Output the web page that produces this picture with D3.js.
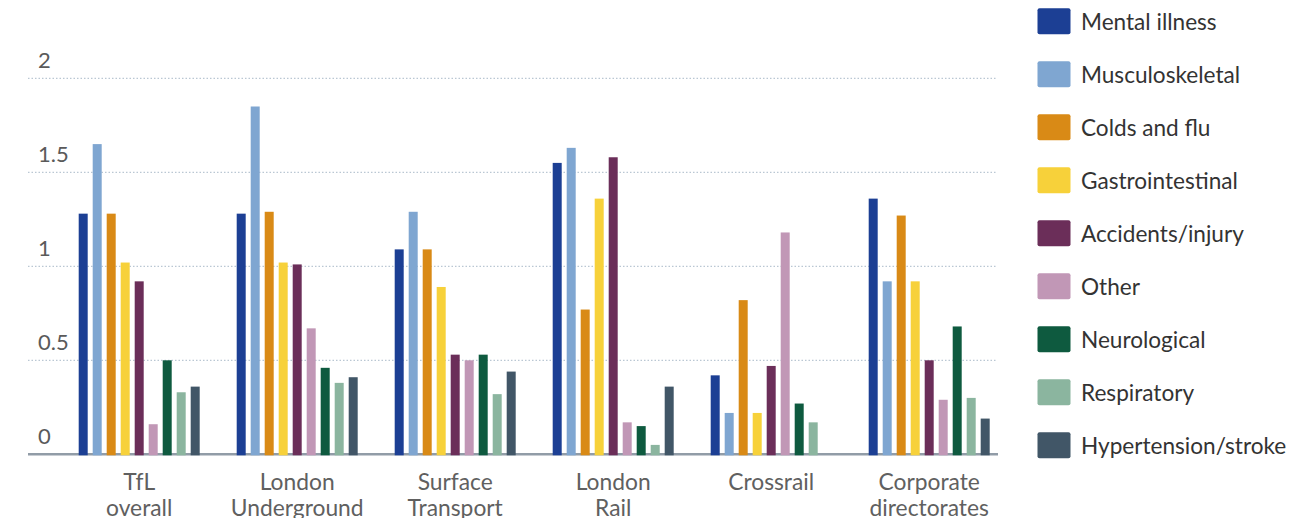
<!DOCTYPE html>
<html>
<head>
<meta charset="utf-8">
<script src="https://cdn.jsdelivr.net/npm/d3@7"></script>
<style>
  html, body { margin: 0; padding: 0; background: #fff; }
  svg { display: block; font-family: Lato, "Open Sans", sans-serif; }
</style>
</head>
<body>
<svg id="chart" width="1316" height="518"></svg>
<script>
const categories = [
  ["TfL", "overall"],
  ["London", "Underground"],
  ["Surface", "Transport"],
  ["London", "Rail"],
  ["Crossrail"],
  ["Corporate", "directorates"]
];
const seriesNames = ["Mental illness", "Musculoskeletal", "Colds and flu", "Gastrointestinal",
  "Accidents/injury", "Other", "Neurological", "Respiratory", "Hypertension/stroke"];
const seriesColors = ["#1c3f94", "#7fa6d1", "#d98a16", "#f7d13a", "#6b2e59", "#c197b6", "#0e5a3f", "#8bb59f", "#415667"];
// values per category, in series order
const mentalIllness    = [1.28, 1.28, 1.09, 1.55, 0.42, 1.36];
const musculoskeletal  = [1.65, 1.85, 1.29, 1.63, 0.22, 0.92];
const coldsAndFlu      = [1.28, 1.29, 1.09, 0.77, 0.82, 1.27];
const gastrointestinal = [1.02, 1.02, 0.89, 1.36, 0.22, 0.92];
const accidentsInjury  = [0.92, 1.01, 0.53, 1.58, 0.47, 0.50];
const other            = [0.16, 0.67, 0.50, 0.17, 1.18, 0.29];
const neurological     = [0.50, 0.46, 0.53, 0.15, 0.27, 0.68];
const respiratory      = [0.33, 0.38, 0.32, 0.05, 0.17, 0.30];
const hypertension     = [0.36, 0.41, 0.44, 0.36, 0.00, 0.19];
const yTicks = [0, 0.5, 1, 1.5, 2];
const yTickLabels = ["0", "0.5", "1", "1.5", "2"];

const seriesValues = [mentalIllness, musculoskeletal, coldsAndFlu, gastrointestinal,
  accidentsInjury, other, neurological, respiratory, hypertension];

const svg = d3.select("#chart");
const catKeys = categories.map(c => c.join(" "));

const x0 = d3.scaleBand().domain(catKeys).range([60.2, 1008.2]).padding(0);
const groupW = 121;
const x1 = d3.scaleBand().domain(seriesNames).range([0, groupW]).paddingInner(5 / 14).paddingOuter(0);
const y = d3.scaleLinear().domain([0, 2]).range([454.3, 78.3]);

// gridlines
svg.append("g").selectAll("line").data(yTicks.filter(t => t > 0)).join("line")
  .attr("x1", 28).attr("x2", 997)
  .attr("y1", d => y(d)).attr("y2", d => y(d))
  .attr("stroke", "#a9b9c9").attr("stroke-width", 1).attr("stroke-dasharray", "1.5,2");

// y tick labels
svg.append("g").selectAll("text").data(yTicks).join("text")
  .attr("x", 38).attr("y", d => y(d) - 10)
  .attr("font-size", 22).attr("fill", "#5a5a5a")
  .text((d, i) => yTickLabels[i]);

// baseline axis
svg.append("line").attr("x1", 28).attr("x2", 998).attr("y1", y(0)).attr("y2", y(0))
  .attr("stroke", "#919ca7").attr("stroke-width", 2.5);

// bars
const groups = svg.append("g").selectAll("g").data(catKeys).join("g")
  .attr("transform", d => `translate(${x0(d) + (x0.bandwidth() - groupW) / 2},0)`);
groups.selectAll("rect").data((d, ci) => seriesNames.map((s, si) => ({ s, si, v: seriesValues[si][ci] })))
  .join("rect")
  .filter(d => d.v > 0)
  .attr("x", d => x1(d.s)).attr("width", x1.bandwidth())
  .attr("y", d => y(d.v)).attr("height", d => y(0) - y(d.v) + 1)
  .attr("fill", d => seriesColors[d.si]);

// category labels
const catLabels = svg.append("g").selectAll("text").data(categories).join("text")
  .attr("text-anchor", "middle").attr("font-size", 22.8).attr("fill", "#606060")
  .attr("transform", (d, i) => `translate(${x0(catKeys[i]) + x0.bandwidth() / 2},489.5)`);
catLabels.selectAll("tspan").data(d => d).join("tspan")
  .attr("x", 0).attr("dy", (d, i) => i === 0 ? 0 : 26).text(d => d);

// legend
const legend = svg.append("g").selectAll("g").data(seriesNames).join("g")
  .attr("transform", (d, i) => `translate(1037.5,${8.3 + i * 53})`);
legend.append("rect").attr("width", 33).attr("height", 26).attr("rx", 2)
  .attr("fill", (d, i) => seriesColors[i]);
legend.append("text").attr("x", 43.5).attr("y", 22)
  .attr("font-size", 22.6).attr("fill", "#333").text(d => d);
</script>
</body>
</html>
